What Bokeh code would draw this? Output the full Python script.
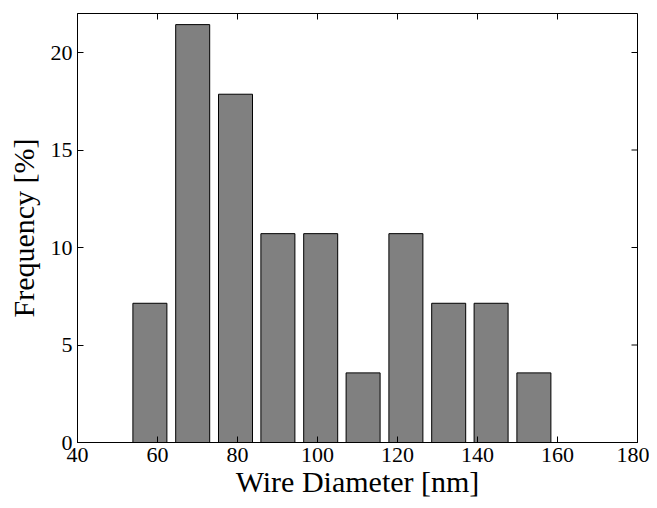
import math
from bokeh.plotting import figure
from bokeh.models import Range1d, FixedTicker, ColumnDataSource
from bokeh.embed import file_html
from bokeh.resources import INLINE

# Data
bin_centers = [58.1, 68.8, 79.5, 90.1, 100.8, 111.4, 122.1, 132.8, 143.4, 154.1]
frequency = [7.14, 21.43, 17.86, 10.71, 10.71, 3.57, 10.71, 7.14, 7.14, 3.57]
x_ticks = [40, 60, 80, 100, 120, 140, 160, 180]
y_ticks = [0, 5, 10, 15, 20]
x_min, x_max = 40, 180
y_min, y_max = 0, 22
bar_width = 8.5

FONT = "Liberation Serif"

p = figure(width=649, height=500, output_backend="svg", toolbar_location=None,
           x_range=Range1d(x_min, x_max), y_range=Range1d(y_min, y_max),
           min_border_left=77, min_border_right=12, min_border_top=13,
           min_border_bottom=58)
p.background_fill_color = "white"
p.border_fill_color = "white"
p.outline_line_color = "black"
p.outline_line_width = 1
p.grid.visible = False

src = ColumnDataSource(dict(x=bin_centers, top=frequency))
p.vbar(x="x", top="top", bottom=0, width=bar_width, source=src,
       fill_color="#808080", line_color="black", line_width=1)

# mirrored inward ticks on the top and right edges (half of each dash is clipped by the frame)
p.scatter(x=x_ticks, y=[y_max] * len(x_ticks), marker="dash", angle=math.pi / 2,
          size=12, line_color="black", line_width=1)
p.scatter(x=[x_max] * len(y_ticks), y=y_ticks, marker="dash",
          size=12, line_color="black", line_width=1)

for ax, ticks in ((p.xaxis[0], x_ticks), (p.yaxis[0], y_ticks)):
    ax.ticker = FixedTicker(ticks=ticks)
    ax.major_tick_in = 6
    ax.major_tick_out = 0
    ax.minor_tick_line_color = None
    ax.axis_line_color = "black"
    ax.major_tick_line_color = "black"
    ax.major_label_text_font = FONT
    ax.major_label_text_color = "black"
    ax.major_label_text_font_size = "22px"
    ax.axis_label_text_font = FONT
    ax.axis_label_text_font_style = "normal"
    ax.axis_label_text_font_size = "30px"
    ax.axis_label_text_color = "black"

p.xaxis[0].axis_label = "Wire Diameter [nm]"
p.xaxis[0].major_label_standoff = 5
p.xaxis[0].axis_label_standoff = 0
p.yaxis[0].axis_label = "Frequency [%]"
p.yaxis[0].major_label_standoff = 5
p.yaxis[0].axis_label_standoff = 8

open("out.html", "w").write(file_html(p, INLINE))
